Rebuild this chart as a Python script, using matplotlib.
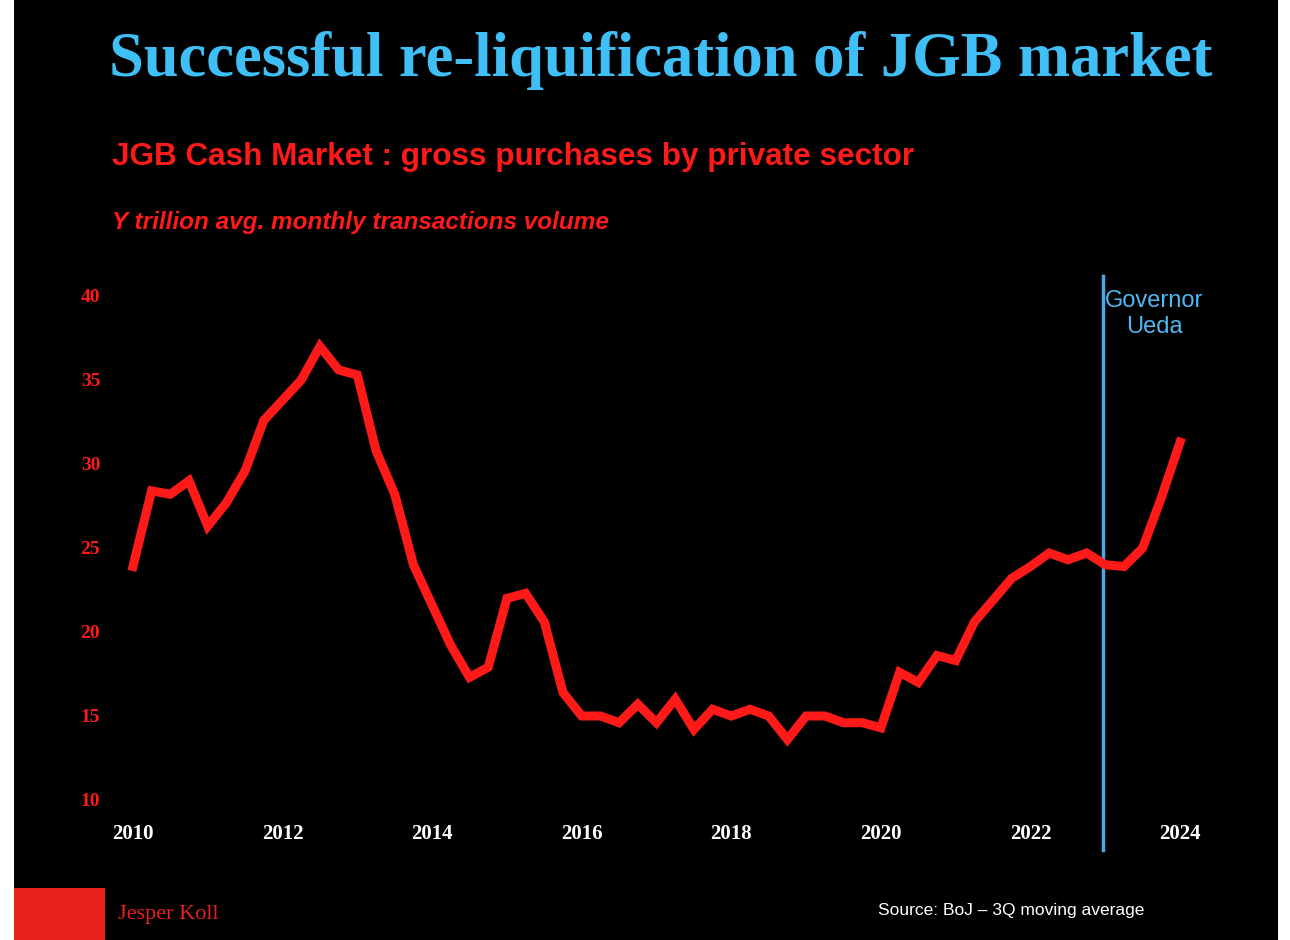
import matplotlib
matplotlib.use("Agg")
import matplotlib.pyplot as plt
from matplotlib.patches import Rectangle
from matplotlib.lines import Line2D

# quarterly, 2010Q1 .. 2024Q1, 3Q moving average (Y trillion)
years = [2010 + 0.25 * i for i in range(57)]
volume = [
    23.9, 28.4, 28.2, 29.0, 26.3, 27.7, 29.6, 32.6, 33.8, 35.0, 37.0, 35.6,
    35.3, 30.8, 28.2, 24.0, 21.6, 19.2, 17.3, 17.9, 22.0, 22.3, 20.6, 16.4,
    15.0, 15.0, 14.6, 15.7, 14.6, 16.0, 14.2, 15.4, 15.0, 15.4, 15.0, 13.6,
    15.0, 15.0, 14.6, 14.6, 14.3, 17.6, 17.0, 18.6, 18.3, 20.6, 21.9, 23.2,
    23.9, 24.7, 24.3, 24.7, 24.0, 23.9, 25.0, 28.0, 31.3,
]
x_ticks = [2010, 2012, 2014, 2016, 2018, 2020, 2022, 2024]
y_ticks = [10, 15, 20, 25, 30, 35, 40]

W, H = 1290, 940
fig = plt.figure(figsize=(W / 100, H / 100), dpi=100, facecolor="white")

def fx(px):
    return px / W

def fy(py):
    return 1 - py / H

# black slide background
fig.patches.append(Rectangle((fx(14), 0), fx(1264), 1, transform=fig.transFigure,
                             facecolor="black", edgecolor="none", zorder=-10))

left, right = 103, 1210
bottom, top = 800, 800 - 32 * 16.8
ax = fig.add_axes([fx(left), fy(bottom), fx(right - left), fy(top) - fy(bottom)])
ax.set_zorder(5)
ax.set_facecolor("none")
ax.set_xlim(2009.6, 2024.4)
ax.set_ylim(10, 42)
for s in ax.spines.values():
    s.set_visible(False)

ax.plot(years, volume, color="#ff1a1a", linewidth=6.5, solid_joinstyle="miter", zorder=3)

ax.set_xticks(x_ticks)
ax.set_xticklabels([str(y) for y in x_ticks], family="Liberation Serif",
                   fontweight="bold", fontsize=15, color="white")
ax.set_yticks(y_ticks)
ax.set_yticklabels([str(y) for y in y_ticks], family="Liberation Serif",
                   fontweight="bold", fontsize=14, color="#ff1a1a")
ax.tick_params(axis="x", length=0, pad=17)
ax.tick_params(axis="y", length=0, pad=2)

# Governor Ueda marker
fig.add_artist(Line2D([fx(1103), fx(1103)], [fy(850), fy(276)], color="#4aa8e8", linewidth=2.5))
fig.text(fx(1154), fy(314), "Governor\nUeda", ha="center", va="center", color="#4fb8f0",
         fontsize=17, family="Liberation Sans", linespacing=1.2)

# titles
fig.text(fx(661), fy(60), "Successful re-liquification of JGB market", ha="center", va="center",
         color="#3fbff5", fontsize=45, fontweight="bold", family="Liberation Serif")
fig.text(fx(112), fy(157), "JGB Cash Market : gross purchases by private sector", ha="left",
         va="center", color="#ff1a1a", fontsize=22.7, fontweight="bold", family="Liberation Sans")
fig.text(fx(112), fy(223), "Y trillion avg. monthly transactions volume", ha="left", va="center",
         color="#ff1a1a", fontsize=17.5, fontweight="bold", style="italic", family="Liberation Sans")

# footer
fig.patches.append(Rectangle((fx(14), 0), fx(91), fy(888), transform=fig.transFigure,
                             facecolor="#e8211c", edgecolor="none", zorder=1))
fig.text(fx(118), fy(915), "Jesper Koll", ha="left", va="center", color="#e8211c",
         fontsize=16, family="Liberation Serif")
fig.text(fx(878), fy(911), "Source: BoJ \u2013 3Q moving average", ha="left", va="center",
         color="white", fontsize=12.5, family="Liberation Sans")

fig.savefig("out.png", dpi=100, facecolor="white")
